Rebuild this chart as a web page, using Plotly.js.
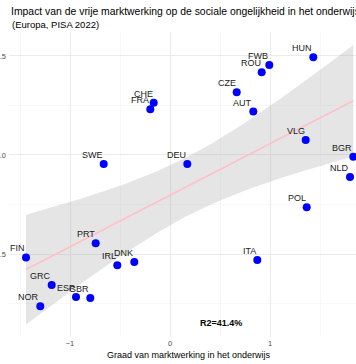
<!DOCTYPE html>
<html><head><meta charset="utf-8">
<script src="https://cdn.plot.ly/plotly-3.0.1.min.js"></script>
<style>body{margin:0;padding:0;background:#fff}#chart{width:356px;height:364px}</style>
</head><body><div id="chart"></div>
<script>
const countries = ["CHE","FRA","SWE","HUN","FWB","ROU","CZE","AUT","VLG","BGR","NLD","DEU","POL","ITA","FIN","PRT","IRL","DNK","GRC","ESP","GBR","NOR"];
const marketX = [-0.163,-0.197,-0.663,1.433,0.993,0.917,0.667,0.833,1.357,1.833,1.80,0.173,1.367,0.873,-1.44,-0.743,-0.527,-0.357,-1.183,-0.94,-0.797,-1.297];
const inequalityY = [1.264,1.231,0.955,1.493,1.455,1.418,1.317,1.219,1.076,0.991,0.889,0.955,0.736,0.470,0.483,0.554,0.443,0.460,0.343,0.283,0.278,0.236];
const r2Label = "R2=41.4%";
const r2Pos = [0.507, 0.153];

// OLS fit + 95% confidence band
const n = marketX.length;
const mx = marketX.reduce((a,b)=>a+b,0)/n;
const my = inequalityY.reduce((a,b)=>a+b,0)/n;
let sxx=0, sxy=0;
for(let i=0;i<n;i++){sxx+=(marketX[i]-mx)**2; sxy+=(marketX[i]-mx)*(inequalityY[i]-my);}
const b1 = sxy/sxx, b0 = my-b1*mx;
let sse=0; for(let i=0;i<n;i++){sse+=(inequalityY[i]-b0-b1*marketX[i])**2;}
const s = Math.sqrt(sse/(n-2));
const tq = 2.086;
const xmin = Math.min(...marketX), xmax = Math.max(...marketX);
const fx=[], fy=[], lo=[], hi=[];
for(let k=0;k<=80;k++){
  const x = xmin+(xmax-xmin)*k/80;
  const yh = b0+b1*x;
  const se = s*Math.sqrt(1/n+(x-mx)**2/sxx);
  fx.push(x); fy.push(yh); lo.push(yh-tq*se); hi.push(yh+tq*se);
}

const traces = [
  {x:fx,y:lo,mode:'lines',line:{width:0},hoverinfo:'skip',showlegend:false},
  {x:fx,y:hi,mode:'lines',line:{width:0},fill:'tonexty',fillcolor:'rgba(153,153,153,0.25)',hoverinfo:'skip',showlegend:false},
  {x:fx,y:fy,mode:'lines',line:{color:'#ffc0cb',width:1.6},showlegend:false},
  {x:marketX,y:inequalityY,mode:'markers',marker:{color:'#0000ff',size:8},showlegend:false}
];

const annotations = countries.map((c,i)=>({
  x:marketX[i],y:inequalityY[i],text:c,showarrow:false,xanchor:'right',yanchor:'middle',
  xshift:1,yshift:9,font:{family:'Liberation Sans, Arial',size:9,color:'#1a1a1a'}
}));
annotations.push({x:r2Pos[0],y:r2Pos[1],text:'<b>'+r2Label+'</b>',showarrow:false,xanchor:'center',yanchor:'middle',
  font:{family:'Liberation Sans, Arial',size:9,color:'#000'}});
annotations.push({xref:'paper',yref:'paper',x:0.52,y:-0.059,text:'Graad van marktwerking in het onderwijs',showarrow:false,
  xanchor:'center',yanchor:'middle',font:{family:'Liberation Sans, Arial',size:9,color:'#000'}});
annotations.push({xref:'paper',yref:'paper',x:0.004,y:1.023,text:'(Europa, PISA 2022)',showarrow:false,
  xanchor:'left',yanchor:'middle',font:{family:'Liberation Sans, Arial',size:9.5,color:'#000'}});

const layout = {
  width:356,height:364,
  margin:{l:9,r:0,t:32,b:27},
  paper_bgcolor:'#fff',plot_bgcolor:'#fff',
  title:{text:'Impact van de vrije marktwerking op de sociale ongelijkheid in het onderwijs',x:0.031,xanchor:'left',y:0.968,yanchor:'middle',
    font:{family:'Liberation Sans, Arial',size:10.4,color:'#000'}},
  xaxis:{range:[-1.61,1.86],tickvals:[-1,0,1],ticktext:['\u22121','0','1'],showline:false,zeroline:false,ticks:'',
    gridcolor:'#ebebeb',gridwidth:1,tickfont:{family:'Liberation Sans, Arial',size:7.5,color:'#4d4d4d'},
    minor:{tickvals:[-1.5,-0.5,0.5,1.5],showgrid:true,gridcolor:'#f3f3f3',gridwidth:0.6}},
  yaxis:{range:[0.081,1.621],tickvals:[0.5,1.0,1.5],ticktext:['0.5','1.0','1.5'],showline:false,zeroline:false,ticks:'',
    ticklabelstandoff:2,
    gridcolor:'#ebebeb',gridwidth:1,tickfont:{family:'Liberation Sans, Arial',size:7.5,color:'#4d4d4d'},
    minor:{tickvals:[0.25,0.75,1.25],showgrid:true,gridcolor:'#f3f3f3',gridwidth:0.6}},
  annotations:annotations
};
Plotly.newPlot('chart',traces,layout,{displayModeBar:false,staticPlot:true});
</script></body></html>
